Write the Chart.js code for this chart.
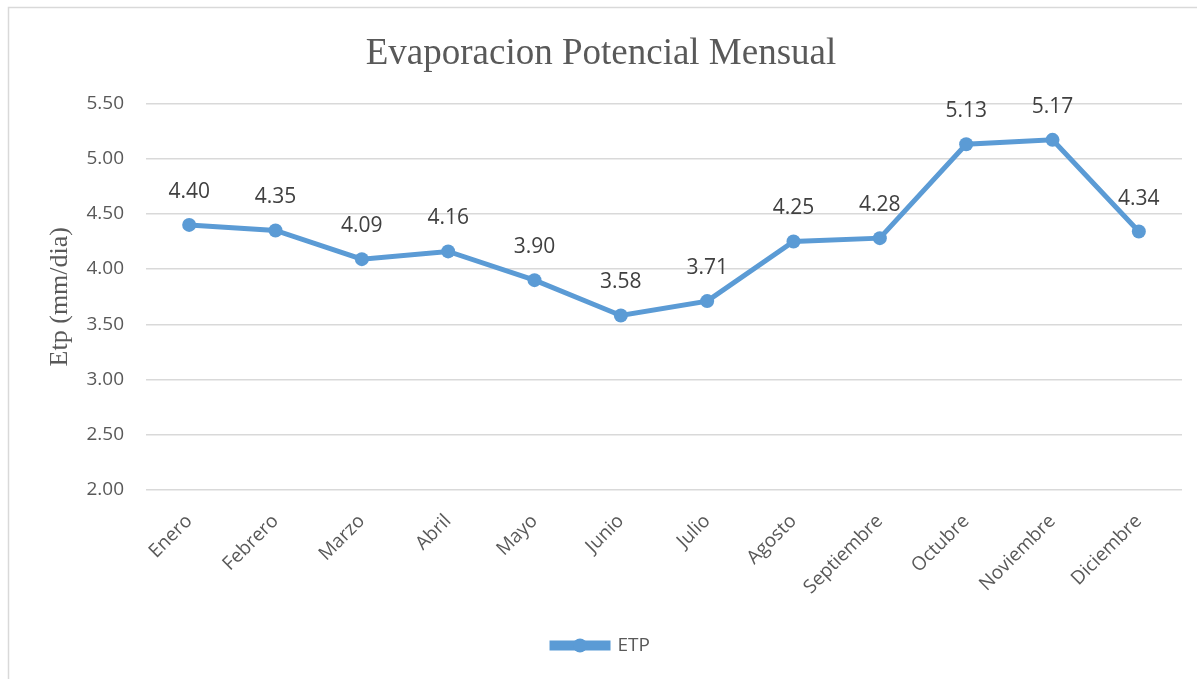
<!DOCTYPE html>
<html>
<head>
<meta charset="utf-8">
<script src="https://cdn.jsdelivr.net/npm/chart.js@4.4.0/dist/chart.umd.min.js"></script>
<style>
  html, body { margin: 0; padding: 0; background: #fff; }
  #wrap { position: relative; width: 1197px; height: 679px; }
</style>
</head>
<body>
<div id="wrap"><canvas id="etpChart" width="1197" height="679"></canvas></div>
<script>
// --- datos ---
const meses = ['Enero', 'Febrero', 'Marzo', 'Abril', 'Mayo', 'Junio', 'Julio', 'Agosto', 'Septiembre', 'Octubre', 'Noviembre', 'Diciembre'];
const etp = [4.40, 4.35, 4.09, 4.16, 3.90, 3.58, 3.71, 4.25, 4.28, 5.13, 5.17, 4.34];
const yMin = 2.0;
const yMax = 5.5;
const yStep = 0.5;

const azul = '#5b9bd5';
const gris = '#595959';
const sans = '"Open Sans", sans-serif';

// marco gris alrededor del grafico
const marco = {
    id: 'marco',
    beforeDraw(chart) {
        const ctx = chart.ctx;
        ctx.save();
        ctx.fillStyle = '#fff';
        ctx.fillRect(0, 0, chart.width, chart.height);
        ctx.strokeStyle = '#d9d9d9';
        ctx.lineWidth = 1.5;
        ctx.strokeRect(8.5, 7.5, chart.width + 20, chart.height + 20);
        ctx.restore();
    }
};

// etiquetas de valor encima de cada punto
const etiquetas = {
    id: 'etiquetas',
    afterDatasetsDraw(chart) {
        const ctx = chart.ctx;
        const meta = chart.getDatasetMeta(0);
        ctx.save();
        ctx.font = '21px ' + sans;
        ctx.fillStyle = '#404040';
        ctx.textAlign = 'center';
        ctx.textBaseline = 'middle';
        meta.data.forEach((pt, i) => {
            ctx.fillText(etp[i].toFixed(2), pt.x, pt.y - 33);
        });
        ctx.restore();
    }
};

// circulo en el marcador de la leyenda
const leyendaPunto = {
    id: 'leyendaPunto',
    afterDraw(chart) {
        const lg = chart.legend;
        if (!lg || !lg.legendHitBoxes || !lg.legendHitBoxes.length) return;
        const hb = lg.legendHitBoxes[0];
        const ctx = chart.ctx;
        const cx = hb.left + 28;
        const cy = hb.top + hb.height / 2;
        ctx.save();
        ctx.fillStyle = azul;
        ctx.beginPath();
        ctx.arc(cx, cy, 7, 0, Math.PI * 2);
        ctx.fill();
        ctx.restore();
    }
};

new Chart(document.getElementById('etpChart').getContext('2d'), {
    type: 'line',
    data: {
        labels: meses,
        datasets: [{
            label: 'ETP',
            data: etp,
            borderColor: azul,
            backgroundColor: azul,
            borderWidth: 5,
            pointRadius: 7,
            pointBackgroundColor: azul,
            pointBorderColor: azul,
            pointBorderWidth: 0,
            tension: 0,
            fill: false
        }]
    },
    options: {
        responsive: false,
        animation: false,
        layout: { padding: { top: 12, left: 20, right: 15, bottom: 14 } },
        scales: {
            x: {
                offset: true,
                grid: { display: false, drawTicks: false, offset: true },
                border: { display: false },
                ticks: {
                    color: gris,
                    font: { size: 19, family: sans },
                    minRotation: 45,
                    maxRotation: 45,
                    padding: 20,
                    autoSkip: false
                },
                afterFit(scale) { scale.height = 136; }
            },
            y: {
                min: yMin,
                max: yMax,
                grid: { color: '#d9d9d9', lineWidth: 1.5, drawTicks: false },
                border: { display: false },
                ticks: {
                    stepSize: yStep,
                    color: gris,
                    padding: 22,
                    font: { size: 19, family: sans },
                    callback: v => Number(v).toFixed(2)
                },
                title: {
                    display: true,
                    text: 'Etp (mm/dia)',
                    color: gris,
                    font: { size: 26, family: '"Liberation Serif", serif' },
                    padding: { top: 25, bottom: 0 }
                },
                afterFit(scale) { scale.width = 126; }
            }
        },
        plugins: {
            title: {
                display: true,
                text: 'Evaporacion Potencial Mensual',
                color: gris,
                font: { size: 37, weight: 'normal', family: '"Liberation Serif", serif' },
                padding: { top: 20, bottom: 27 }
            },
            legend: {
                position: 'bottom',
                labels: {
                    color: gris,
                    font: { size: 19, family: sans },
                    boxWidth: 56,
                    boxHeight: 5,
                    padding: 10
                }
            },
            tooltip: { enabled: false }
        }
    },
    plugins: [marco, etiquetas, leyendaPunto]
});
</script>
</body>
</html>
